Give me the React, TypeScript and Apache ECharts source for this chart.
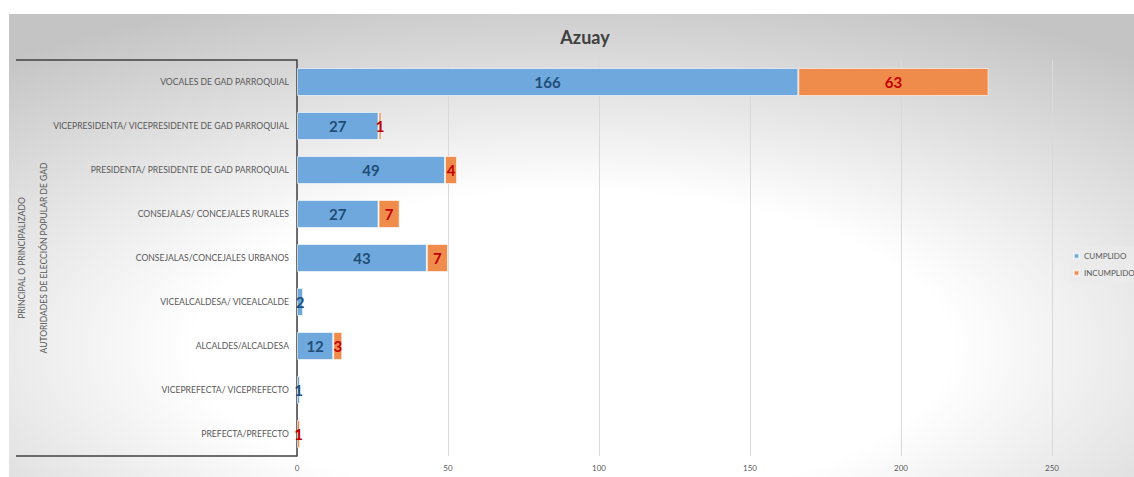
import React, { useEffect, useRef } from "react";
import * as echarts from "echarts";

const titleText = "Azuay";
const categories = [
  "VOCALES DE GAD PARROQUIAL",
  "VICEPRESIDENTA/ VICEPRESIDENTE DE GAD PARROQUIAL",
  "PRESIDENTA/ PRESIDENTE DE GAD PARROQUIAL",
  "CONSEJALAS/ CONCEJALES RURALES",
  "CONSEJALAS/CONCEJALES URBANOS",
  "VICEALCALDESA/ VICEALCALDE",
  "ALCALDES/ALCALDESA",
  "VICEPREFECTA/ VICEPREFECTO",
  "PREFECTA/PREFECTO",
];
const cumplido: (number | null)[] = [166, 27, 49, 27, 43, 2, 12, 1, null];
const incumplido: (number | null)[] = [63, 1, 4, 7, 7, null, 3, null, 1];
const seriesNames = ["CUMPLIDO", "INCUMPLIDO"];
const groupLabels = [
  "PRINCIPAL O PRINCIPALIZADO",
  "AUTORIDADES DE ELECCIÓN POPULAR DE GAD",
];

export default function App() {
  const ref = useRef<HTMLDivElement>(null);
  useEffect(() => {
    if (!ref.current) return;
    const chart = echarts.init(ref.current, null, { renderer: "svg" });
    const gridLeft = 288;
    const gridTop = 46;
    const gridBottomY = 442;
    const midY = (gridTop + gridBottomY) / 2;
    const labelFont = "Lato, 'Open Sans', sans-serif";
    chart.setOption({
      animation: false,
      backgroundColor: {
        type: "radial",
        x: 0.5,
        y: 0.72,
        r: 0.8,
        colorStops: [
          { offset: 0, color: "#ffffff" },
          { offset: 0.42, color: "#ffffff" },
          { offset: 1, color: "#c4c4c4" },
        ],
      },
      title: {
        text: titleText,
        left: 571,
        top: 9,
        textAlign: "center",
        textStyle: {
          fontFamily: labelFont,
          fontSize: 18,
          fontWeight: "bold",
          color: "#404040",
        },
      },
      legend: {
        orient: "vertical",
        left: 1060,
        top: 232,
        itemWidth: 5,
        itemHeight: 5,
        itemGap: 9,
        icon: "rect",
        padding: [6, 2, 6, 4],
        backgroundColor: "rgba(235,235,235,0.7)",
        data: seriesNames,
        textStyle: { fontFamily: labelFont, fontSize: 8, color: "#595959" },
      },
      grid: { left: gridLeft, right: 82, top: gridTop, bottom: 21, containLabel: false },
      xAxis: {
        type: "value",
        min: 0,
        max: 250,
        interval: 50,
        axisLine: { show: false },
        axisTick: { show: false },
        splitLine: { show: true, lineStyle: { color: "#d9d9d9", width: 1 } },
        axisLabel: { fontFamily: labelFont, fontSize: 8, color: "#595959", margin: 8 },
      },
      yAxis: {
        type: "category",
        inverse: true,
        data: categories,
        axisLine: { show: true, lineStyle: { color: "#404040", width: 1.5 } },
        axisTick: { show: false },
        axisLabel: { fontFamily: labelFont, fontSize: 8.6, color: "#595959", margin: 8 },
      },
      series: [
        {
          name: seriesNames[0],
          type: "bar",
          stack: "total",
          barWidth: 28,
          data: cumplido,
          itemStyle: { color: "#6fa8dc", borderColor: "rgba(255,255,255,0.6)", borderWidth: 1 },
          label: {
            show: true,
            position: "inside",
            fontFamily: labelFont,
            fontSize: 15,
            fontWeight: "bold",
            color: "#1f4e79",
          },
        },
        {
          name: seriesNames[1],
          type: "bar",
          stack: "total",
          barWidth: 28,
          data: incumplido,
          itemStyle: { color: "#f08c4b", borderColor: "rgba(255,255,255,0.6)", borderWidth: 1 },
          label: {
            show: true,
            position: "inside",
            fontFamily: labelFont,
            fontSize: 15,
            fontWeight: "bold",
            color: "#c00000",
          },
        },
      ],
      graphic: [
        {
          type: "line",
          shape: { x1: 7, y1: gridTop, x2: gridLeft, y2: gridTop },
          style: { stroke: "#404040", lineWidth: 1.5 },
        },
        {
          type: "line",
          shape: { x1: 7, y1: gridBottomY, x2: gridLeft, y2: gridBottomY },
          style: { stroke: "#404040", lineWidth: 1.5 },
        },
        {
          type: "text",
          x: 13,
          y: midY,
          rotation: Math.PI / 2,
          style: {
            text: groupLabels[0],
            textAlign: "center",
            textVerticalAlign: "middle",
            fontFamily: labelFont,
            fontSize: 8.5,
            fill: "#595959",
          },
        },
        {
          type: "text",
          x: 35,
          y: midY,
          rotation: Math.PI / 2,
          style: {
            text: groupLabels[1],
            textAlign: "center",
            textVerticalAlign: "middle",
            fontFamily: labelFont,
            fontSize: 8.5,
            fill: "#595959",
          },
        },
      ],
    });
    return () => chart.dispose();
  }, []);
  return (
    <div
      ref={ref}
      style={{ position: "absolute", left: 9, top: 14, width: 1125, height: 463 }}
    />
  );
}
